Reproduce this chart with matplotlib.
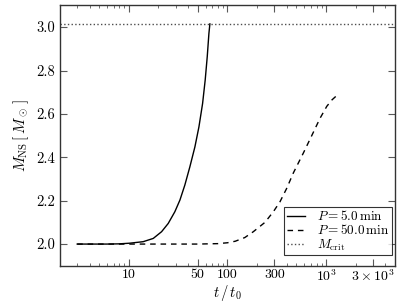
import numpy as np
import matplotlib
matplotlib.use('Agg')
from matplotlib import pyplot as plt
from matplotlib.ticker import LogLocator, NullFormatter

plt.rcParams['font.family'] = 'serif'
plt.rcParams['font.serif'] = ['cmr10']
plt.rcParams['mathtext.fontset'] = 'cm'
plt.rcParams['axes.unicode_minus'] = False
plt.rcParams['axes.formatter.use_mathtext'] = True

# data
t_fast = [3, 6, 8, 10.2, 14.0, 17.7, 21.5, 25.1, 29.3, 33.0, 37.0, 41.6, 46.8, 51.4,
          56.0, 59.5, 62.4, 64.9, 66.4]
m_fast = [2.0, 2.0, 2.001, 2.004, 2.011, 2.026, 2.057, 2.095, 2.149, 2.203, 2.272, 2.356,
          2.448, 2.54, 2.648, 2.756, 2.863, 2.971, 3.015]

t_slow = [3, 50, 80, 100, 120, 150, 183, 240, 292, 341, 399, 466, 589, 716, 869, 1017,
          1150, 1300]
m_slow = [2.0, 2.0, 2.002, 2.006, 2.013, 2.03, 2.057, 2.10, 2.149, 2.195, 2.257, 2.328,
          2.42, 2.50, 2.58, 2.635, 2.665, 2.687]

m_crit = 3.015

xticks = [10, 50, 100, 300, 1000, 3000]
xticklabels = ['10', '50', '100', '300', r'$10^3$', r'$3\times10^3$']
yticks = [2.0, 2.2, 2.4, 2.6, 2.8, 3.0]

fig = plt.figure(figsize=(3.99, 3.02), dpi=100)
ax = fig.add_axes([0.150, 0.120, 0.840, 0.862])

ax.plot(t_fast, m_fast, c='k', linestyle='-', linewidth=1.0, label=r'$P = 5.0\,\mathrm{min}$')
ax.plot(t_slow, m_slow, c='k', linestyle='--', dashes=(4, 3.5), linewidth=1.0,
        label=r'$P = 50.0\,\mathrm{min}$')
ax.axhline(m_crit, c='0.3', linestyle=':', linewidth=1.0, label=r'$M_{\rm crit}$')

ax.set_xscale('log')
ax.set_xlim(2, 5000)
ax.set_ylim(1.9, 3.1)

ax.set_xticks(xticks)
ax.set_xticklabels(xticklabels)
ax.xaxis.set_minor_locator(LogLocator(base=10, subs=np.arange(2, 10)))
ax.xaxis.set_minor_formatter(NullFormatter())
ax.set_yticks(yticks)
ax.set_yticklabels(['%.1f' % v for v in yticks])

ax.tick_params(which='both', direction='in', top=True, right=True, color='0.35', labelsize=10.5)
ax.tick_params(axis='x', which='both', pad=2, labelsize=10)
ax.tick_params(which='major', length=5, width=0.8)
ax.tick_params(which='minor', length=2.5, width=0.6)
for s in ax.spines.values():
    s.set_linewidth(1.0)
    s.set_color('0.2')

ax.set_xlabel(r'$t\,/\,t_0$', fontsize=10.5)
ax.xaxis.set_label_coords(0.5, -0.066)
ax.set_ylabel(r'$M_{\rm NS}\,[\,M_\odot\,]$', fontsize=11)

leg = ax.legend(loc='lower right', bbox_to_anchor=(0.991, 0.04), fontsize=9.5, frameon=True,
                fancybox=False, handlelength=1.4, borderpad=0.2, labelspacing=0.0,
                handletextpad=0.9, borderaxespad=0)
leg.get_frame().set_edgecolor('k')
leg.get_frame().set_linewidth(0.8)

plt.savefig('out.png', dpi=100)
